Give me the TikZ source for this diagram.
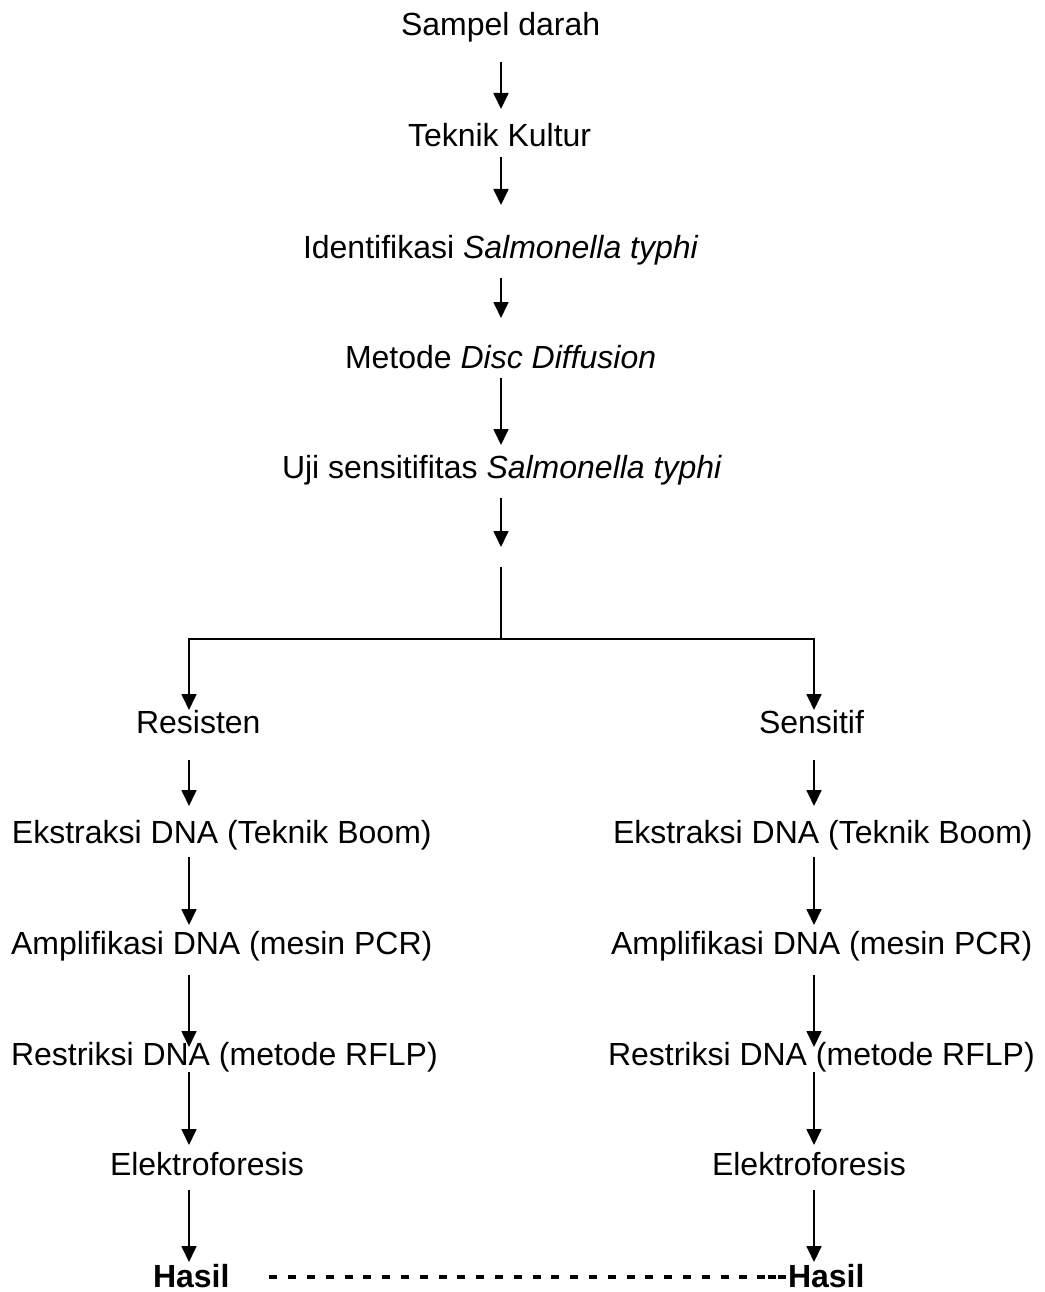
\documentclass[tikz,border=0pt]{standalone}
\usepackage{fontspec}
\setmainfont{Liberation Sans}
\usetikzlibrary{arrows.meta,calc}
\tikzset{
  lbl/.style={anchor=base west,inner sep=0pt,outer sep=0pt,font=\fontsize{32pt}{38pt}\selectfont},
  arr/.style={line width=1.7pt,-{Triangle[width=15pt,length=16pt]}},
  ln/.style={line width=1.7pt},
  dsh/.style={line width=4.5pt,dash pattern=on 8pt off 10.8pt},
  dshb/.style={line width=4.5pt,dash pattern=on 8pt off 2.5pt}
}
\begin{document}
\begin{tikzpicture}[x=1pt,y=1pt]
\useasboundingbox (0,0) rectangle (1044,-1292);
% column coordinates
\coordinate (cM) at (501,0);
\coordinate (cL) at (189,0);
\coordinate (cR) at (814,0);
% main column
\node[lbl] (sampel) at (401,-36) {Sampel darah};
\node[lbl] (kultur) at (408,-147) {Teknik Kultur};
\node[lbl] (ident) at (303,-258) {Identifikasi \textit{Salmonella typhi}};
\node[lbl] (disc) at (345,-368) {Metode \textit{Disc Diffusion}};
\node[lbl] (uji) at (282,-478) {Uji sensitifitas \textit{Salmonella typhi}};
% left column
\node[lbl] (res) at (136,-733) {Resisten};
\node[lbl] (ekL) at (12,-843) {Ekstraksi DNA (Teknik Boom)};
\node[lbl] (amL) at (11,-954) {Amplifikasi DNA (mesin PCR)};
\node[lbl] (reL) at (11,-1065) {Restriksi DNA (metode RFLP)};
\node[lbl] (elL) at (110,-1175) {Elektroforesis};
\node[lbl,font=\fontsize{32pt}{38pt}\selectfont\bfseries] (haL) at (153,-1287) {Hasil};
% right column
\node[lbl] (sen) at (759,-733) {Sensitif};
\node[lbl] (ekR) at (613,-843) {Ekstraksi DNA (Teknik Boom)};
\node[lbl] (amR) at (611,-954) {Amplifikasi DNA (mesin PCR)};
\node[lbl] (reR) at (608,-1065) {Restriksi DNA (metode RFLP)};
\node[lbl] (elR) at (712,-1175) {Elektroforesis};
\node[lbl,font=\fontsize{32pt}{38pt}\selectfont\bfseries] (haR) at (788,-1287) {Hasil};
% main arrows
\draw[arr] ($(sampel.base -| cM)+(0,-26)$) -- ($(kultur.base -| cM)+(0,38)$);
\draw[arr] ($(kultur.base -| cM)+(0,-10)$) -- ($(ident.base -| cM)+(0,53)$);
\draw[arr] ($(ident.base -| cM)+(0,-20)$) -- ($(disc.base -| cM)+(0,50)$);
\draw[arr] ($(disc.base -| cM)+(0,-10)$) -- ($(uji.base -| cM)+(0,33)$);
\draw[arr] ($(uji.base -| cM)+(0,-20)$) -- ($(uji.base -| cM)+(0,-69)$);
% split
\coordinate (split) at (501,-639);
\draw[ln] ($(uji.base -| cM)+(0,-89)$) -- (split);
\draw[arr] (split) -| ($(res.base -| cL)+(0,23)$);
\draw[arr] (split) -| ($(sen.base -| cR)+(0,23)$);
% left arrows
\draw[arr] ($(res.base -| cL)+(0,-27)$) -- ($(ekL.base -| cL)+(0,37)$);
\draw[arr] ($(ekL.base -| cL)+(0,-14)$) -- ($(amL.base -| cL)+(0,29)$);
\draw[arr] ($(amL.base -| cL)+(0,-21)$) -- ($(reL.base -| cL)+(0,18)$);
\draw[arr] ($(reL.base -| cL)+(0,-7)$) -- ($(elL.base -| cL)+(0,30)$);
\draw[arr] ($(elL.base -| cL)+(0,-15)$) -- ($(haL.base -| cL)+(0,25)$);
% right arrows
\draw[arr] ($(sen.base -| cR)+(0,-27)$) -- ($(ekR.base -| cR)+(0,37)$);
\draw[arr] ($(ekR.base -| cR)+(0,-14)$) -- ($(amR.base -| cR)+(0,29)$);
\draw[arr] ($(amR.base -| cR)+(0,-21)$) -- ($(reR.base -| cR)+(0,18)$);
\draw[arr] ($(reR.base -| cR)+(0,-7)$) -- ($(elR.base -| cR)+(0,30)$);
\draw[arr] ($(elR.base -| cR)+(0,-15)$) -- ($(haR.base -| cR)+(0,25)$);
% dashed link between results
\coordinate (dA) at ($(haL.base east)+(40,10)$);
\coordinate (dB) at ($(haR.base west)+(-31,10)$);
\draw[dsh] (dA) -- ($(dB)+(-6,0)$);
\draw[dshb] (dB) -- ($(haR.base west)+(-1,10)$);
\end{tikzpicture}
\end{document}
